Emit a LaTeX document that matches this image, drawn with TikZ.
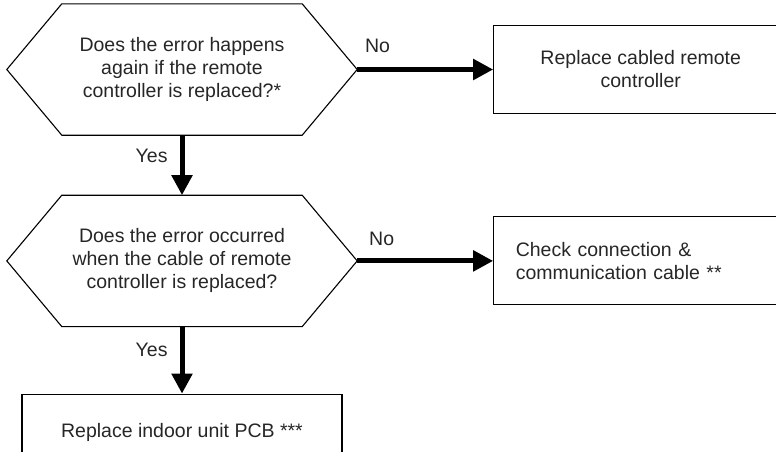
\documentclass[tikz,border=0pt]{standalone}
\usepackage{fontspec}
\setmainfont{Liberation Sans}
\usetikzlibrary{arrows.meta, positioning, calc}

\begin{document}
\begin{tikzpicture}[
  x=1pt, y=-1pt,
  node distance=60pt,
  every node/.style={font=\fontsize{19.5}{23}\selectfont, text=black!85},
  decision/.style={rectangle, minimum width=350pt, minimum height=131pt,
                   inner sep=0pt, align=center},
  box/.style={rectangle, draw, line width=1.1pt, minimum width=294pt,
              minimum height=88pt, align=center},
  ans/.style={inner sep=0pt},
  arrow/.style={-{Triangle[length=20pt, width=20pt]}, line width=5pt}
]
  \useasboundingbox (0,0) rectangle (776,451);
  \node[decision] (q1) at (182,69.5)
        {Does the error happens\\again if the remote\\controller is replaced?*};
  \node[decision, below=of q1] (q2)
        {Does the error occurred\\when the cable of remote\\controller is replaced?};
  \node[box, right=136pt of q1] (remote)
        {Replace cabled remote\\controller};
  \node[box, right=136pt of q2, align=left, text width=250pt] (cable)
        {Check connection \&\\communication cable **};
  \node[box, below=67pt of q2, minimum width=320pt, minimum height=76pt] (pcb)
        {Replace indoor unit PCB ***};
  % hexagon outlines round the questions
  \foreach \q in {q1,q2}
    \draw[line width=1.1pt] ([xshift=55pt]\q.north west) -- ([xshift=-55pt]\q.north east)
      -- (\q.east) -- ([xshift=-55pt]\q.south east) -- ([xshift=55pt]\q.south west)
      -- (\q.west) -- cycle;
  \draw[arrow] (q1.east) -- (remote.west) node[ans, pos=0.15, above=14pt] {No};
  \draw[arrow] (q2.east) -- (cable.west) node[ans, pos=0.18, above=13pt] {No};
  \draw[arrow] (q1.south) -- (q2.north) node[ans, pos=0.35, left=12pt] {Yes};
  \draw[arrow] (q2.south) -- (pcb.north) node[ans, pos=0.35, left=12pt] {Yes};
\end{tikzpicture}
\end{document}
